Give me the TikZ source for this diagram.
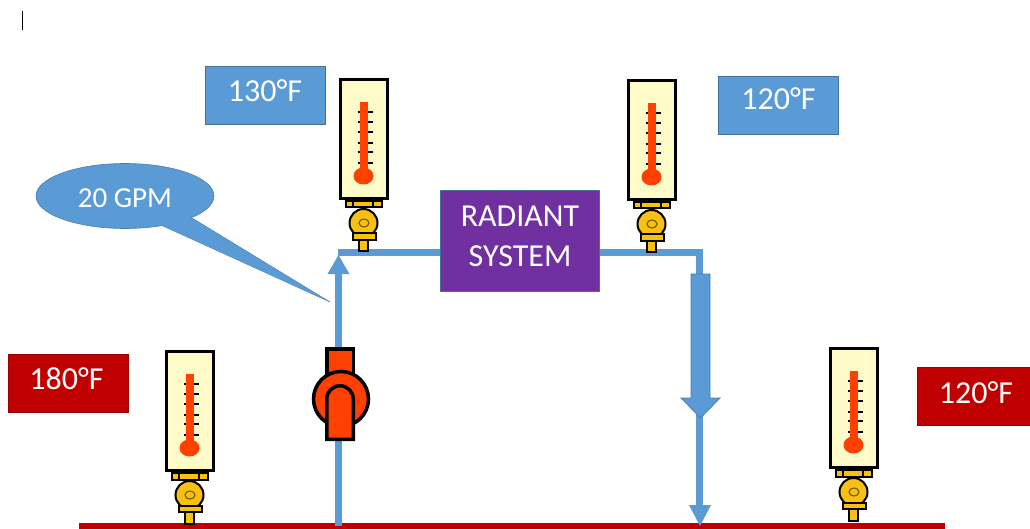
\documentclass[tikz,border=0pt]{standalone}
\usepackage{fontspec}
\usetikzlibrary{shapes.geometric}
\setmainfont{Carlito}
\definecolor{pipeblue}{HTML}{5B9BD5}
\definecolor{edgeblue}{HTML}{41719C}
\definecolor{deepred}{HTML}{C00000}
\definecolor{pumpred}{HTML}{FF4000}
\definecolor{purplebox}{HTML}{7030A0}
\definecolor{thermcream}{HTML}{FFFBC8}
\definecolor{brass}{HTML}{F8C010}
\newcommand{\lift}[2]{\raisebox{#1pt}[0pt][0pt]{#2}}
\tikzset{
  pipe/.style={draw=pipeblue,line width=7pt,line join=miter},
  headfill/.style={fill=pipeblue,draw=none},
  label box/.style={minimum width=#1,minimum height=58pt,inner sep=0pt,text=white,font=\fontsize{32}{34}\selectfont,draw=edgeblue,line width=0.8pt},
  blue box/.style={label box=120pt,fill=pipeblue},
  red box/.style={label box=120pt,fill=deepred,draw=deepred!80!black},
  blk/.style={draw=black,line width=3.5pt},
  thin blk/.style={draw=black,line width=2pt},
  thermometer/.pic={
    \draw[blk,fill=thermcream] (0.7,0.7) rectangle (47.3,119.3);
    \foreach \t in {33,43,53,64,73,84} \draw[black,line width=1.1pt] (17.5,\t) -- (33,\t);
    \fill[pumpred] (19.5,23) rectangle (27.5,92);
    \fill[pumpred] (23.5,97) ellipse [x radius=10,y radius=8.5];
    \draw[thin blk,fill=brass] (5.5,122) rectangle (41.5,128.5);
    \draw[black,line width=1.4pt] (13,122) -- (13,128.5) (33,122) -- (33,128.5);
    \draw[thin blk,fill=brass] (18.5,161) rectangle (28,172.5);
    \draw[thin blk,fill=brass] (23.5,144) circle [radius=14];
    \draw[thin blk,fill=brass] (12.5,154.5) rectangle (36,161);
    \draw[brass!45!black,line width=1.1pt,fill=brass] (24,144) ellipse [x radius=5,y radius=4];
  }
}
\begin{document}
\begin{tikzpicture}[x=1pt,y=-1pt]
\useasboundingbox (0,0) rectangle (1030,529);
% cursor mark
\coordinate (c1) at (22,11); \coordinate (c2) at (22,30);
\draw[black,line width=0.8pt] (c1) -- (c2);
% supply main
\coordinate (mainL) at (79,526); \coordinate (mainR) at (945,526);
\draw[deepred,line width=6pt] (mainL) -- (mainR);
% named junctions
\coordinate (tapUp) at (338.5,526);
\coordinate (cornerL) at (338.5,253);
\coordinate (cornerR) at (699.5,253);
\coordinate (tapDown) at (699.5,506);
\coordinate (upTip) at (338.5,255);
\node[fill=purplebox,draw=edgeblue,line width=0.8pt,minimum width=159pt,minimum height=101pt,inner sep=0pt,text=white,align=center,font=\fontsize{32}{40}\selectfont] (radiant) at (520,240.5) {\raisebox{8pt}{RADIANT}\\\raisebox{8pt}{SYSTEM}};
% pipes
\draw[pipe] (tapUp) -- (338.5,272);
\draw[pipe] (337.5,253) -- (radiant.west |- cornerL);
\draw[pipe] (radiant.east |- cornerR) -- (cornerR) -- (tapDown);
\fill[headfill] (upTip) -- (349.5,274) -- (327.5,274) -- cycle;
% large flow arrow
\draw[fill=pipeblue,draw=edgeblue!70!pipeblue,line width=0.8pt] (691,274) -- (710,274) -- (710,398) -- (720,398) -- (700.5,418) -- (681,398) -- (691,398) -- cycle;
% lower arrowhead
\fill[headfill] (700,526) -- (711,505) -- (689,505) -- cycle;
% thermometers
\pic at (340,79) {thermometer};
\pic at (628,80) {thermometer};
\pic at (166,351) {thermometer};
\pic at (830,348) {thermometer};
% pump
\draw[blk,fill=pumpred] (326.75,348.75) rectangle (353.25,385);
\draw[blk,fill=pumpred] (341,399) circle [radius=27.5];
\draw[blk,fill=pumpred] (326.75,439.25) -- (326.75,399) arc [start angle=180,end angle=360,radius=13.25] -- (353.25,439.25) -- cycle;
% labels
\node[blue box] (t130) at (265,95) {\lift{-7}{130°F}};
\node[blue box] (t120a) at (778.5,105) {\lift{-5}{120°F}};
\node[red box] (t180) at (68,383) {\lift{-6}{\kern-3pt 180°F}};
\node[red box] (t120b) at (977,396) {\lift{-7}{\kern-2pt 120°F}};
% callout
\coordinate (calloutTip) at (330,302);
\fill[pipeblue,draw=edgeblue!70!pipeblue,line width=0.5pt] (163,226) -- (calloutTip) -- (192,218) -- cycle;
\node[ellipse,fill=pipeblue,draw=edgeblue!70!pipeblue,line width=0.6pt,minimum width=178pt,minimum height=65pt,inner sep=0pt,text=white,font=\fontsize{29}{31}\selectfont] (gpm) at (125,196) {\lift{-12}{20 GPM}};
\fill[pipeblue] (163.6,226) -- (calloutTip) -- (191.4,218.6) -- (178,212) -- cycle;
\end{tikzpicture}
\end{document}
